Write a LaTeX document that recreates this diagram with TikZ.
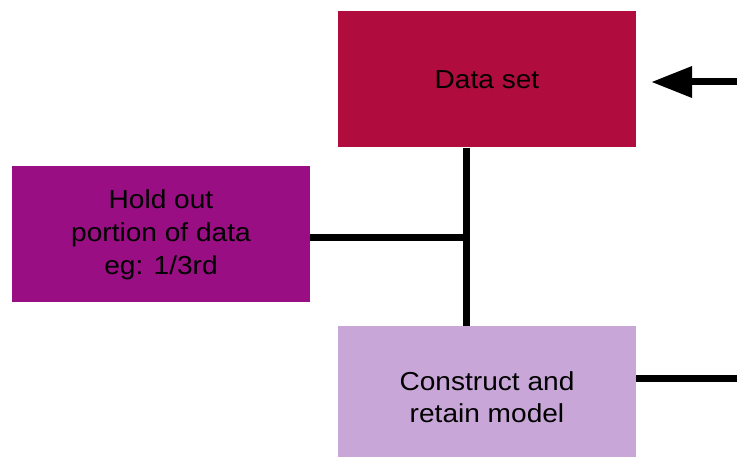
\documentclass[tikz,border=0pt]{standalone}
\usepackage{fontspec}
\setmainfont{Liberation Sans}[FakeStretch=1.08]
\usetikzlibrary{arrows.meta}
\definecolor{dataset}{HTML}{B00C3E}
\definecolor{holdout}{HTML}{990E82}
\definecolor{construct}{HTML}{C8A6D8}
\tikzset{
  box/.style={draw=none, minimum width=298pt, minimum height=136pt, inner sep=0pt,
    align=center, font=\fontsize{26}{32}\selectfont, text=black},
  link/.style={line width=7pt, black},
}
\begin{document}
\begin{tikzpicture}[x=1pt, y=-1pt]
  \useasboundingbox (0,0) rectangle (737,457);
  \clip (0,0) rectangle (737,457);
  \node[box, fill=dataset]   (data)  at (487,79.5)  {Data set};
  \node[box, fill=holdout, font=\fontsize{26}{33}\selectfont] (hold) at (161,234.5) {Hold out\\portion of data\\eg: 1/3rd};
  \node[box, fill=construct, minimum height=142pt] (model) at (487,397) {Construct and\\retain model};
  % trunk from the data set down to the model
  \draw[link] (data.south -| 466,0) -- (model.north -| 466,0);
  \coordinate (joint) at (466,238);
  \draw[link] (hold.east |- joint) -- (joint);
  % feedback loop from the model back to the data set
  \coordinate (outR) at (745,378);
  \coordinate (backR) at (745,82);
  \draw[link, -{Triangle[length=41pt,width=30pt]}]
    (model.east |- outR) -- (outR) -- (backR) -- ([xshift=15pt]data.east |- backR);
\end{tikzpicture}
\end{document}
